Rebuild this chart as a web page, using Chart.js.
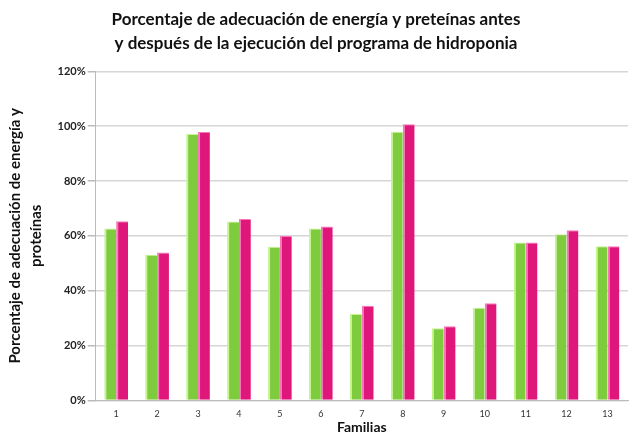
<!DOCTYPE html>
<html>
<head>
<meta charset="utf-8">
<script src="https://cdn.jsdelivr.net/npm/chart.js@4.4.1/dist/chart.umd.min.js"></script>
<style>
  html, body { margin: 0; padding: 0; background: #fff; }
  #wrap { width: 632px; height: 436px; }
</style>
</head>
<body>
<div id="wrap"><canvas id="chart"></canvas></div>
<script>
  // datos
  const familias = ["1", "2", "3", "4", "5", "6", "7", "8", "9", "10", "11", "12", "13"];
  const antes = [62.7, 53.1, 97.1, 65.2, 56.0, 62.7, 31.5, 98.0, 26.3, 33.8, 57.6, 60.6, 56.2];
  const despues = [65.3, 53.9, 97.9, 66.1, 59.9, 63.4, 34.5, 100.7, 27.0, 35.4, 57.6, 62.0, 56.2];
  const yTicks = [0, 20, 40, 60, 80, 100, 120];

  const FONT = "Lato, 'Open Sans', sans-serif";

  new Chart(document.getElementById("chart"), {
    type: "bar",
    data: {
      labels: familias,
      datasets: [
        {
          label: "Antes",
          data: antes,
          backgroundColor: "#7fcb3e",
          borderColor: "#c4f58e",
          borderWidth: { left: 2, top: 1, right: 0, bottom: 0 },
          borderSkipped: false,
          barPercentage: 1,
          categoryPercentage: 0.58
        },
        {
          label: "Después",
          data: despues,
          backgroundColor: "#e0177a",
          borderColor: "#f777b8",
          borderWidth: { left: 2, top: 1, right: 0, bottom: 0 },
          borderSkipped: false,
          barPercentage: 1,
          categoryPercentage: 0.58
        }
      ]
    },
    options: {
      responsive: true,
      maintainAspectRatio: false,
      animation: false,
      layout: { padding: { left: 4, right: 4, top: 0, bottom: 0 } },
      plugins: {
        legend: { display: false },
        tooltip: { enabled: false },
        title: {
          display: true,
          text: ["Porcentaje de adecuación de energía y preteínas antes",
                 "y después de la ejecución del programa de hidroponia"],
          color: "#111",
          font: { family: FONT, size: 17, weight: "bold", lineHeight: 1.45 },
          padding: { top: 7, bottom: 15 }
        }
      },
      scales: {
        x: {
          grid: { display: false },
          border: { color: "#bbb" },
          ticks: { color: "#333", font: { family: FONT, size: 9 }, padding: 0 },
          title: {
            display: true,
            text: "Familias",
            color: "#111",
            font: { family: FONT, size: 14, weight: "bold" },
            padding: { top: 0, bottom: 0 }
          }
        },
        y: {
          min: 0,
          max: 120,
          afterBuildTicks: (axis) => { axis.ticks = yTicks.map(v => ({ value: v })); },
          grid: { color: "#d6d6d6", lineWidth: 1.5, tickLength: 8, tickColor: "#bbb" },
          border: { color: "#bbb" },
          ticks: {
            color: "#222",
            font: { family: FONT, size: 11, weight: "bold" },
            padding: 2,
            callback: (v) => v + "%"
          },
          title: {
            display: true,
            text: ["Porcentaje de adecuación de energía y", "proteínas"],
            color: "#111",
            font: { family: FONT, size: 15, weight: "bold", lineHeight: 1.45 },
            padding: { top: 0, bottom: 8 }
          }
        }
      }
    }
  });
</script>
</body>
</html>
